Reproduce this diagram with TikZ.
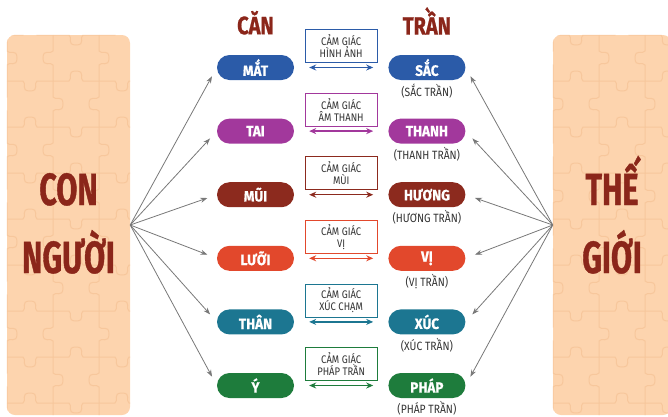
\documentclass[tikz,border=0pt]{standalone}
\usepackage{fontspec}
\setmainfont{Fira Sans}
\newfontfamily\condfont[FakeStretch=0.9,FakeBold=0.6]{Fira Sans}
\newfontfamily\headfont[FakeStretch=0.8,FakeBold=0.8]{Fira Sans}
\newfontfamily\bigfont[FakeStretch=0.68,FakeBold=0.8]{Fira Sans}
\newfontfamily\smallfont[FakeStretch=0.86]{Fira Sans}
\usepackage{tikz}
\usetikzlibrary{positioning}
\usetikzlibrary{calc}
\usetikzlibrary{arrows.meta}

\definecolor{cblue}{RGB}{43,91,168}
\definecolor{cpurple}{RGB}{162,56,156}
\definecolor{cmaroon}{RGB}{140,42,30}
\definecolor{cred}{RGB}{226,72,44}
\definecolor{cteal}{RGB}{28,118,145}
\definecolor{cgreen}{RGB}{30,124,60}
\definecolor{cdark}{RGB}{139,38,26}
\definecolor{cpanel}{RGB}{253,212,174}
\definecolor{cjig}{RGB}{247,199,156}
\definecolor{arrowgray}{RGB}{120,120,120}
\definecolor{textgray}{RGB}{51,51,51}

\begin{document}
\begin{tikzpicture}[
x=1pt, y=-1pt,
pill/.style={rectangle, rounded corners=12.5pt, fill=#1, text=white, minimum width=77pt, minimum height=25pt, inner sep=0pt, font=\condfont\bfseries\fontsize{15}{15}\selectfont},
cambox/.style={rectangle, draw=#1, line width=0.8pt, fill=white, minimum width=72pt, minimum height=33pt, inner sep=1pt, align=center, text=textgray, font=\smallfont\fontsize{11}{12}\selectfont},
sublabel/.style={inner sep=1pt, text=textgray, font=\smallfont\fontsize{12}{12}\selectfont},
header/.style={inner sep=0pt, text=cdark, font=\headfont\bfseries\fontsize{25}{25}\selectfont},
bigtext/.style={inner sep=0pt, text=cdark, font=\bigfont\bfseries\fontsize{45}{45}\selectfont},
panel/.style={rectangle, rounded corners=8pt, fill=cpanel, minimum width=#1, minimum height=380pt},
jig/.style={draw=cjig, line width=1pt},
link/.style={-{Stealth[length=7pt,width=5pt]}, draw=arrowgray, line width=0.8pt, shorten >=10pt},
pair/.style={{Stealth[length=7pt,width=6pt]}-{Stealth[length=7pt,width=6pt]}, draw=#1, line width=1.4pt, shorten <=15pt, shorten >=15pt},
]
\useasboundingbox (0,0) rectangle (668,416);

%Panels
\node[panel=123pt] (nguoi)   at (68.5,225) {};
\node[panel=118pt] (thegioi) at (612,225)  {};

%Puzzle pattern
\begin{scope}
\clip[rounded corners=8pt] (nguoi.north west) rectangle (nguoi.south east);
\foreach \r in {0,...,8}{
  \foreach \c in {0,...,2}{
    \pgfmathsetmacro\s{ifthenelse(mod(\r+\c,2)==0,1,-1)}
    \draw[jig, shift={(7+46*\c,35+46*\r)}] (0,0) -- (16,0) .. controls (20,-2*\s) and (13,-10*\s) .. (23,-10*\s) .. controls (33,-10*\s) and (26,-2*\s) .. (30,0) -- (46,0);
    \draw[jig, shift={(7+46*\c,35+46*\r)}] (0,0) -- (0,16) .. controls (2*\s,20) and (10*\s,13) .. (10*\s,23) .. controls (10*\s,33) and (2*\s,26) .. (0,30) -- (0,46);
  }
}
\end{scope}
\begin{scope}
\clip[rounded corners=8pt] (thegioi.north west) rectangle (thegioi.south east);
\foreach \r in {0,...,8}{
  \foreach \c in {0,...,2}{
    \pgfmathsetmacro\s{ifthenelse(mod(\r+\c,2)==0,-1,1)}
    \draw[jig, shift={(553+46*\c,35+46*\r)}] (0,0) -- (16,0) .. controls (20,-2*\s) and (13,-10*\s) .. (23,-10*\s) .. controls (33,-10*\s) and (26,-2*\s) .. (30,0) -- (46,0);
    \draw[jig, shift={(553+46*\c,35+46*\r)}] (0,0) -- (0,16) .. controls (2*\s,20) and (10*\s,13) .. (10*\s,23) .. controls (10*\s,33) and (2*\s,26) .. (0,30) -- (0,46);
  }
}
\end{scope}

\node[bigtext, anchor=base] (con)  at (68.5,205) {CON};
\node[bigtext, anchor=base] (ngu)  at (68.5,273) {NGƯỜI};
\node[bigtext, anchor=base] (the)  at (612,205)  {THẾ};
\node[bigtext, anchor=base] (gioi) at (612,273)  {GIỚI};

%Nodes
\node[pill=cblue]   (mat)  at (255.5,67.5)      {MẮT};
\node[pill=cpurple] (tai)  [below=38.2pt of mat]  {TAI};
\node[pill=cmaroon] (mui)  [below=38.2pt of tai]  {MŨI};
\node[pill=cred]    (luoi) [below=38.2pt of mui]  {LƯỠI};
\node[pill=cteal]   (than) [below=38.2pt of luoi] {THÂN};
\node[pill=cgreen]  (y)    [below=38.2pt of than] {Ý};

\node[pill=cblue]   (sac)   [right=94pt of mat]  {SẮC};
\node[pill=cpurple] (thanh) [right=94pt of tai]  {THANH};
\node[pill=cmaroon] (huong) [right=94pt of mui]  {HƯƠNG};
\node[pill=cred]    (vi)    [right=94pt of luoi] {VỊ};
\node[pill=cteal]   (xuc)   [right=94pt of than] {XÚC};
\node[pill=cgreen]  (phap)  [right=94pt of y]    {PHÁP};

\node[header] (can)  [above=20pt of mat] {CĂN};
\node[header] (tran) [above=20pt of sac] {TRẦN};

\node[sublabel] (sactran)   [below=2pt of sac]   {(SẮC TRẦN)};
\node[sublabel] (thanhtran) [below=2pt of thanh] {(THANH TRẦN)};
\node[sublabel] (huongtran) [below=2pt of huong] {(HƯƠNG TRẦN)};
\node[sublabel] (vitran)    [below=2pt of vi]    {(VỊ TRẦN)};
\node[sublabel] (xuctran)   [below=2pt of xuc]   {(XÚC TRẦN)};
\node[sublabel] (phaptran)  [below=2pt of phap]  {(PHÁP TRẦN)};

\node[cambox=cblue]   (hinhanh) at ($(mat.east)!0.5!(sac.west)+(0,-21.5)$)    {CẢM GIÁC\\HÌNH ẢNH};
\node[cambox=cpurple] (amthanh) at ($(tai.east)!0.5!(thanh.west)+(0,-21.5)$)  {CẢM GIÁC\\ÂM THANH};
\node[cambox=cmaroon] (mui2)    at ($(mui.east)!0.5!(huong.west)+(0,-21.5)$)  {CẢM GIÁC\\MÙI};
\node[cambox=cred]    (vi2)     at ($(luoi.east)!0.5!(vi.west)+(0,-21.5)$)    {CẢM GIÁC\\VỊ};
\node[cambox=cteal]   (xucham)  at ($(than.east)!0.5!(xuc.west)+(0,-21.5)$)   {CẢM GIÁC\\XÚC CHẠM};
\node[cambox=cgreen]  (phap2)   at ($(y.east)!0.5!(phap.west)+(0,-21.5)$)     {CẢM GIÁC\\PHÁP TRẦN};

%Lines
\draw[link] (nguoi.east) -- (mat.west);
\draw[link] (nguoi.east) -- (tai.west);
\draw[link] (nguoi.east) -- (mui.west);
\draw[link] (nguoi.east) -- (luoi.west);
\draw[link] (nguoi.east) -- (than.west);
\draw[link] (nguoi.east) -- (y.west);

\draw[link] (thegioi.west) -- (sac.east);
\draw[link] (thegioi.west) -- (thanh.east);
\draw[link] (thegioi.west) -- (huong.east);
\draw[link] (thegioi.west) -- (vi.east);
\draw[link] (thegioi.west) -- (xuc.east);
\draw[link] (thegioi.west) -- (phap.east);

\draw[pair=cblue]   (mat)  -- (sac);
\draw[pair=cpurple] (tai)  -- (thanh);
\draw[pair=cmaroon] (mui)  -- (huong);
\draw[pair=cred]    (luoi) -- (vi);
\draw[pair=cteal]   (than) -- (xuc);
\draw[pair=cgreen]  (y)    -- (phap);
\end{tikzpicture}
\end{document}
